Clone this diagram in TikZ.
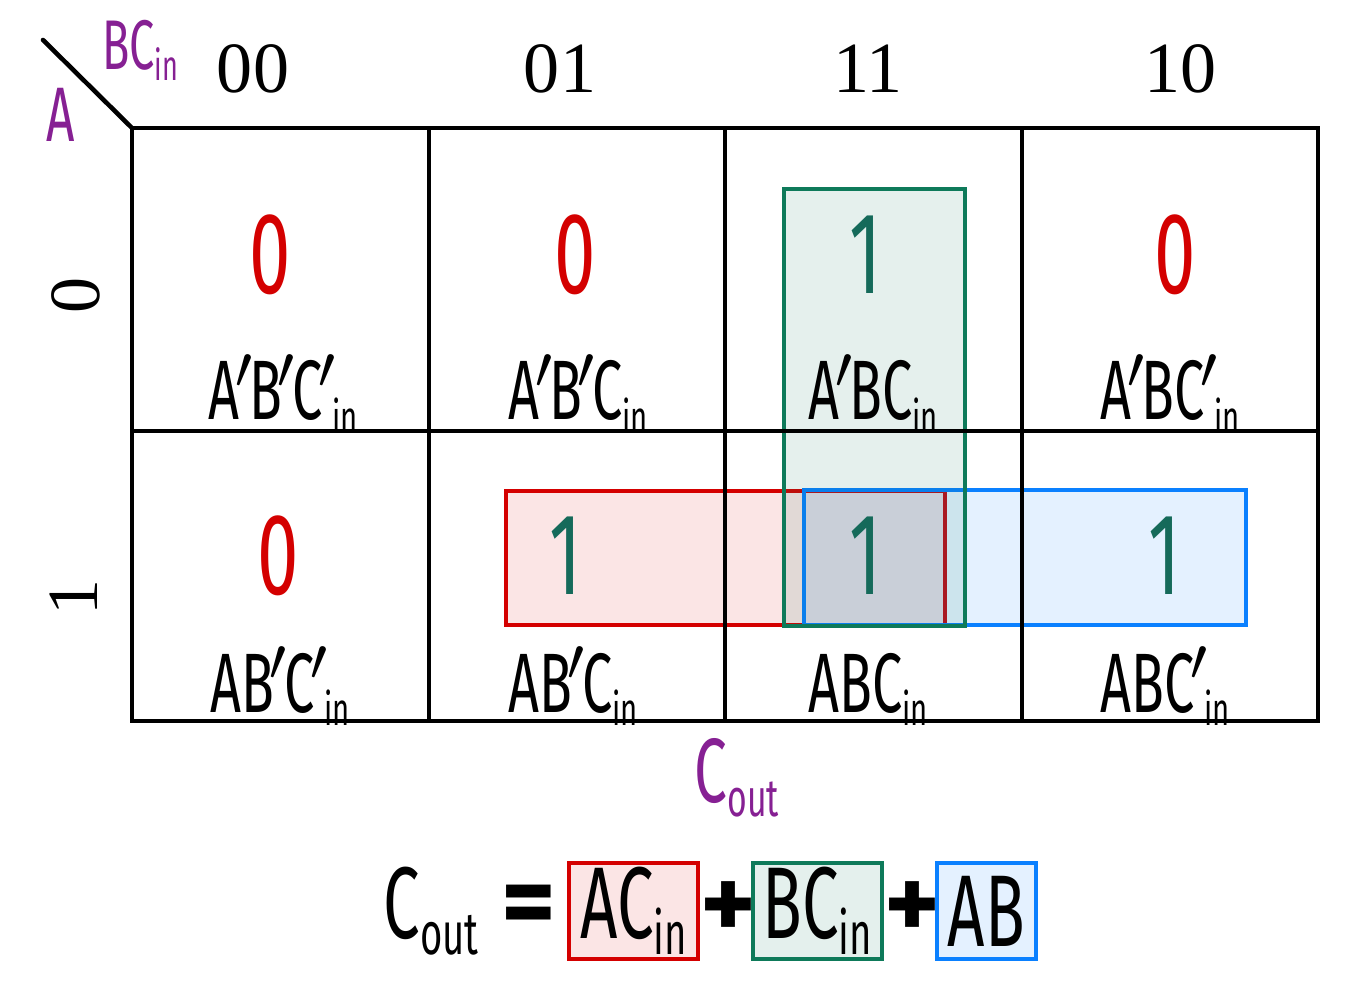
\documentclass[tikz,border=0pt]{standalone}
\usepackage{fontspec}
\setmainfont{Liberation Serif}
\newfontfamily\hand[FakeStretch=0.64]{Fira Sans}
\newfontfamily\symfont{Fira Sans}
\usetikzlibrary{positioning}
\definecolor{kred}{HTML}{D40000}
\definecolor{kgreen}{HTML}{0E7A5A}
\definecolor{kone}{HTML}{156A5A}
\definecolor{kblue}{HTML}{0A80FF}
\definecolor{kpurple}{HTML}{862093}
\newcommand{\lowsub}[2][13]{\raisebox{-0.3ex}{\fontsize{#1}{#1}\selectfont #2}}
\newcommand{\pr}{\kern-0.05em$'$\kern-0.05em}

\begin{document}
\begin{tikzpicture}[
    gridline/.style={line width=1.3pt},
    head/.style={font=\fontsize{20.5}{24}\selectfont, inner sep=0pt},
    zero/.style={font=\hand\fontsize{33}{36}\selectfont, text=kred, inner sep=0pt},
    one/.style={font=\hand\fontsize{33}{36}\selectfont, text=kone, inner sep=0pt},
    term/.style={font=\hand\fontsize{24}{26}\selectfont, inner sep=0pt, anchor=base},
    eqbox/.style={draw, line width=1pt, font=\hand\fontsize{29}{32}\selectfont,
                  minimum width=1.29cm, minimum height=0.96cm, inner sep=0pt},
    sym/.style={font=\symfont\bfseries\fontsize{30}{32}\selectfont, inner sep=0pt,
                text width=0.50cm, align=center}
]
    \useasboundingbox (0,0) rectangle (13.49,-10);
    % Groups
    \draw[kred, line width=0.9pt, fill=kred, fill opacity=0.1] (5.06,-4.91) rectangle (9.45,-6.25);
    \draw[kblue, line width=0.9pt, fill=kblue, fill opacity=0.11] (8.04,-4.90) rectangle (12.46,-6.25);
    \draw[kgreen, line width=0.9pt, fill=kgreen, fill opacity=0.11] (7.84,-1.89) rectangle (9.65,-6.26);
    % Grid
    \draw[gridline] (1.32,-1.28) rectangle (13.18,-7.21);
    \draw[gridline] (1.32,-4.31) -- (13.18,-4.31);
    \foreach \x in {4.29,7.25,10.22}
        \draw[gridline] (\x,-1.28) -- (\x,-7.21);
    \draw[gridline, line cap=round] (0.43,-0.40) -- (1.32,-1.28);
    % Corner labels
    \node[font=\hand\fontsize{20}{21}\selectfont, text=kpurple] (bcin) at (1.40,-0.50) {BC\lowsub[12]{in}};
    \node[font=\hand\fontsize{22}{23}\selectfont, text=kpurple] (a) at (0.61,-1.15) {A};
    % Column labels
    \node[head] (h00) at (2.53,-0.69) {00};
    \node[head] (h01) at (5.60,-0.69) {01};
    \node[head] (h11) at (8.68,-0.69) {11};
    \node[head] (h10) at (11.80,-0.69) {10};
    % Row labels
    \node[head, rotate=90] (r0) at (0.76,-2.95) {0};
    \node[head, rotate=90] (r1) at (0.74,-5.97) {1};
    % Values
    \node[zero] (v00) at (2.70,-2.55) {0};
    \node[zero] (v01) at (5.75,-2.55) {0};
    \node[one]  (v11) at (8.66,-2.55) {1};
    \node[zero] (v10) at (11.75,-2.55) {0};
    \node[zero] (w00) at (2.78,-5.56) {0};
    \node[one]  (w01) at (5.66,-5.56) {1};
    \node[one]  (w11) at (8.66,-5.56) {1};
    \node[one]  (w10) at (11.65,-5.56) {1};
    % Minterms
    \node[term] (t00) at (2.83,-4.20) {A\pr B\pr C\pr\lowsub{in}};
    \node[term] (t01) at (5.78,-4.20) {A\pr B\pr C\lowsub{in}};
    \node[term] (t11) at (8.73,-4.20) {A\pr BC\lowsub{in}};
    \node[term] (t10) at (11.70,-4.20) {A\pr BC\pr\lowsub{in}};
    \node[term] (u00) at (2.80,-7.12) {AB\pr C\pr\lowsub{in}};
    \node[term] (u01) at (5.73,-7.12) {AB\pr C\lowsub{in}};
    \node[term] (u11) at (8.68,-7.12) {ABC\lowsub{in}};
    \node[term] (u10) at (11.65,-7.12) {ABC\pr\lowsub{in}};
    % Map name
    \node[font=\hand\fontsize{26}{28}\selectfont, text=kpurple] (cout) at (7.37,-7.78) {C\lowsub[15]{out}};
    % Equation
    \node[eqbox, draw=kred, fill=kred!10] (acin) at (6.335,-9.11) {AC\lowsub[17]{in}};
    \node[sym, right=0pt of acin] (plus1) {+};
    \node[eqbox, draw=kgreen, fill=kgreen!11, right=0pt of plus1] (bcin2) {BC\lowsub[17]{in}};
    \node[sym, right=0pt of bcin2] (plus2) {+};
    \node[eqbox, draw=kblue, fill=kblue!11, minimum width=0.99cm, right=0pt of plus2] (ab) {AB};
    \node[sym, left=0.15cm of acin] (eq) {=};
    \node[font=\hand\fontsize{29}{32}\selectfont, left=0.1cm of eq] (cout2) {C\lowsub[17]{out}};
\end{tikzpicture}
\end{document}
